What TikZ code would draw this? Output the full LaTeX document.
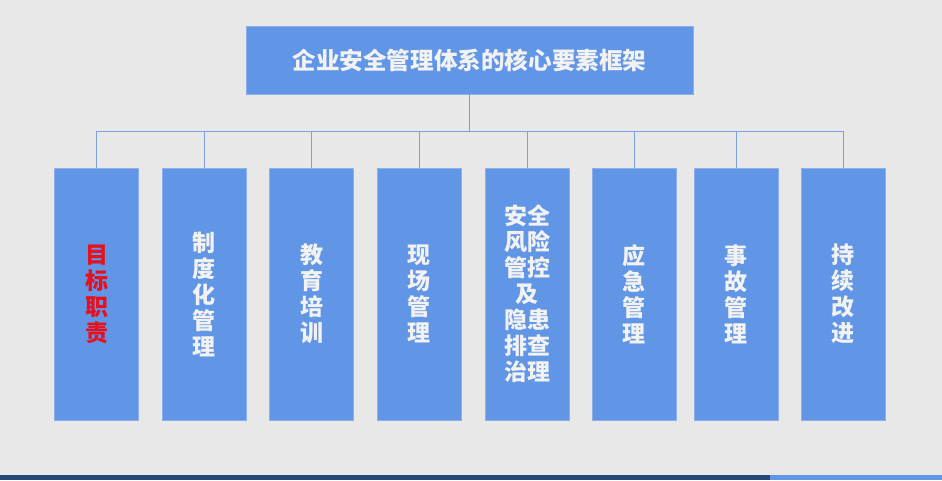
\documentclass[tikz,border=0pt]{standalone}
\usepackage{fontspec}
\newfontfamily\cjk{Noto Sans CJK SC}
\definecolor{bgray}{HTML}{E8E8E8}
\definecolor{boxblue}{HTML}{6195E6}
\definecolor{boxedge}{HTML}{8DB0EC}
\definecolor{linkblue}{HTML}{7C9FDD}
\definecolor{boxtext}{HTML}{F2F2F2}
\definecolor{goalred}{HTML}{E8101C}
\definecolor{barnavy}{HTML}{264878}
\begin{document}
\begin{tikzpicture}[x=1pt, y=-1pt,
    elem/.style={draw=boxedge, fill=boxblue, line width=0.6pt, inner sep=0pt,
      minimum width=84pt, minimum height=252pt, align=center, text=boxtext,
      font=\cjk\bfseries\fontsize{23}{26}\selectfont},
    link/.style={draw=linkblue, line width=0.8pt}]
	\fill[bgray] (0, 0) rectangle (942, 480);
	\fill[barnavy] (0, 475) rectangle (770, 480);
	\fill[boxblue] (770, 475) rectangle (942, 480);
	% top of the tree
	\node[elem, minimum width=447pt, minimum height=68pt,
	  font=\cjk\bfseries\fontsize{23.6}{26}\selectfont] (frame) at (469.5, 60) {企业安全管理体系的核心要素框架};
	\coordinate (bus) at (469.5, 131);
	% the eight elements
	\node[elem, text=goalred] (goal) at (96.5, 294) {目\\标\\职\\责};
	\node[elem] (rules) at (204, 294) {制\\度\\化\\管\\理};
	\node[elem] (train) at (311.5, 294) {教\\育\\培\\训};
	\node[elem] (site) at (419, 294) {现\\场\\管\\理};
	\node[elem] (risk) at (527, 294) {安全\\风险\\管控\\及\\隐患\\排查\\治理};
	\node[elem] (emerg) at (634, 294) {应\\急\\管\\理};
	\node[elem] (accid) at (736, 294) {事\\故\\管\\理};
	\node[elem] (improve) at (843, 294) {持\\续\\改\\进};
	\draw[link] (frame.south) -- (bus);
	\foreach \n in {goal, rules, train, site, risk, emerg, accid, improve}
	  \draw[link] (bus) -| (\n.north);
\end{tikzpicture}
\end{document}
